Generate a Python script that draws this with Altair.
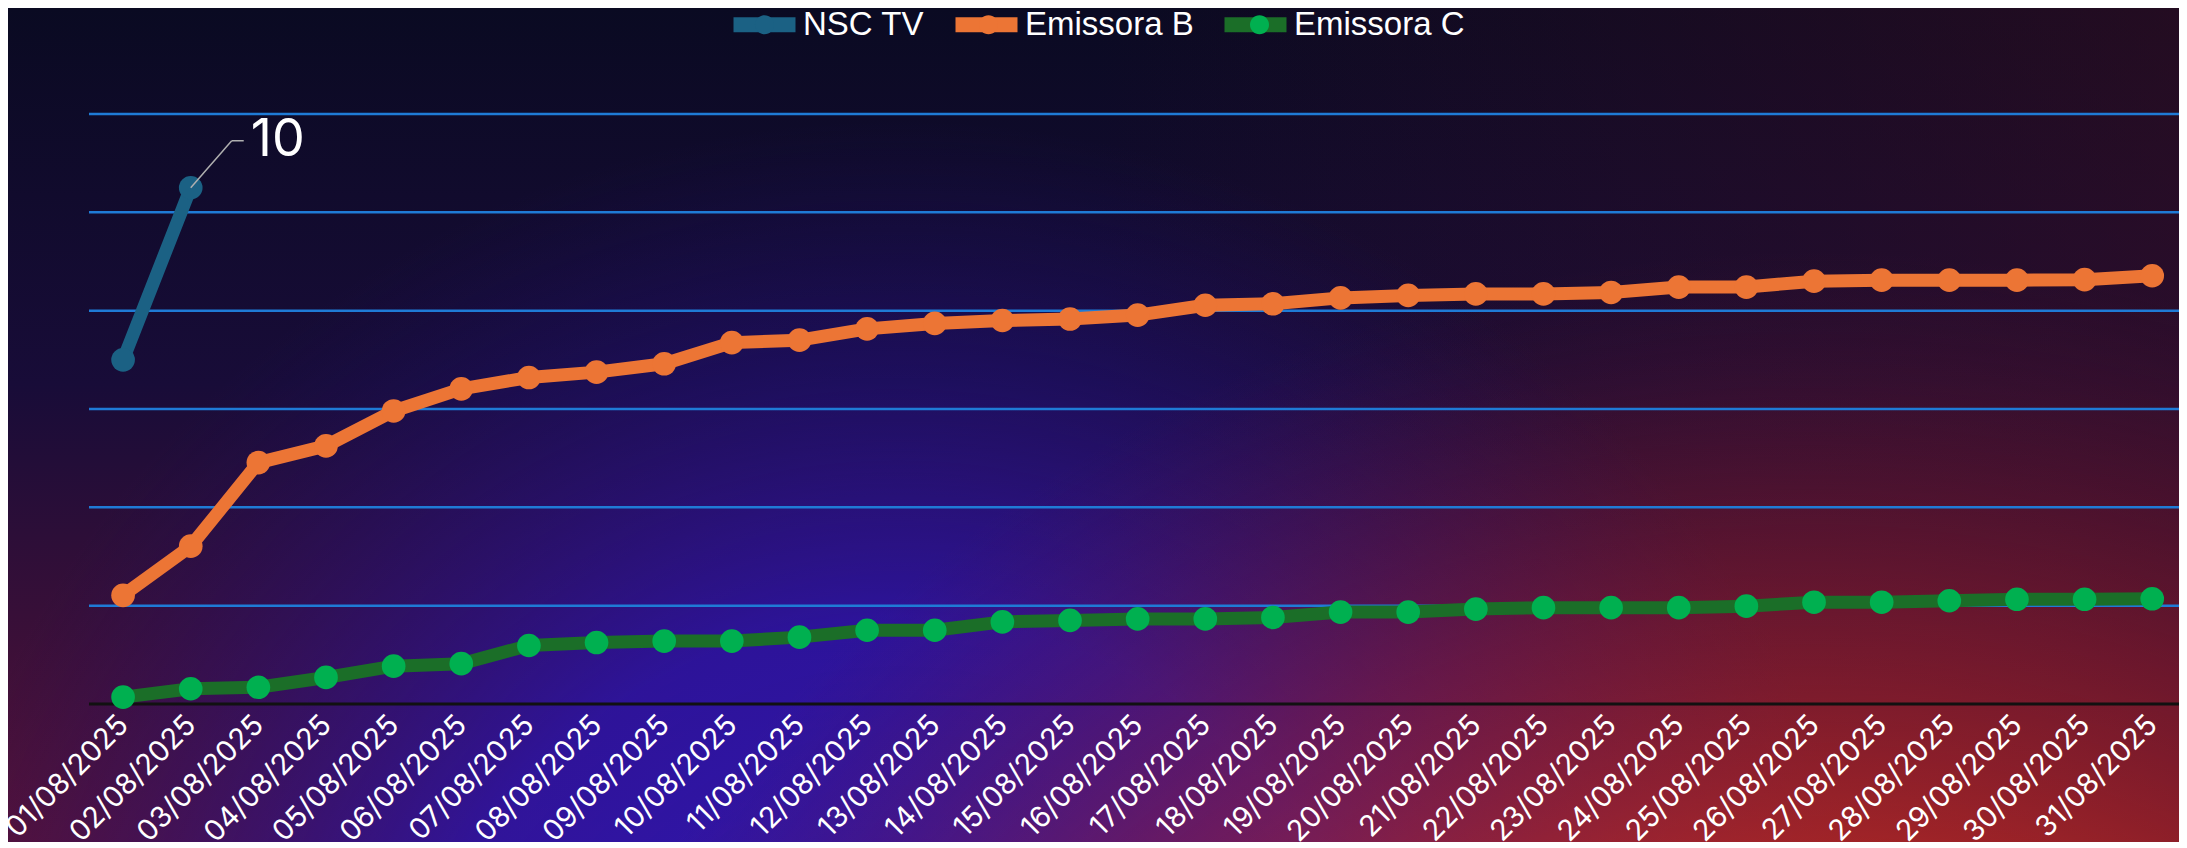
import altair as alt
import pandas as pd

dates = ["01/08/2025", "02/08/2025", "03/08/2025", "04/08/2025", "05/08/2025",
         "06/08/2025", "07/08/2025", "08/08/2025", "09/08/2025", "10/08/2025",
         "11/08/2025", "12/08/2025", "13/08/2025", "14/08/2025", "15/08/2025",
         "16/08/2025", "17/08/2025", "18/08/2025", "19/08/2025", "20/08/2025",
         "21/08/2025", "22/08/2025", "23/08/2025", "24/08/2025", "25/08/2025",
         "26/08/2025", "27/08/2025", "28/08/2025", "29/08/2025", "30/08/2025",
         "31/08/2025"]

series_names = ["NSC TV", "Emissora B", "Emissora C"]

nsc_tv = [7.0, 10.5]

emissora_b = [2.21, 3.21, 4.91, 5.25, 5.96, 6.41, 6.64, 6.75, 6.92, 7.35,
              7.40, 7.63, 7.74, 7.80, 7.83, 7.91, 8.11, 8.14, 8.26, 8.31,
              8.34, 8.34, 8.37, 8.48, 8.48, 8.60, 8.62, 8.62, 8.62, 8.63,
              8.71]

emissora_c = [0.14, 0.31, 0.34, 0.54, 0.77, 0.82, 1.19, 1.25, 1.28, 1.28,
              1.36, 1.50, 1.50, 1.67, 1.70, 1.73, 1.73, 1.76, 1.87, 1.87,
              1.93, 1.96, 1.96, 1.96, 1.99, 2.07, 2.07, 2.10, 2.13, 2.13,
              2.14]

grid_values = [2, 4, 6, 8, 10, 12]

line_colors = ["#1b6184", "#ec7535", "#1b6e28"]
point_colors = ["#1b6184", "#ec7535", "#00b050"]

# the point layer uses the same names with an invisible zero-width suffix so
# that its (circle) legend is kept apart from the line legend and overlaid on it
ZW = "\u200b"
series_pt_names = [s + ZW for s in series_names]

rows = []
for name, vals in zip(series_names, [nsc_tv, emissora_b, emissora_c]):
    for d, v in zip(dates, vals):
        rows.append({"date": d, "series": name, "series_pt": name + ZW,
                     "value": v})
df = pd.DataFrame(rows)

W, H = 2090, 590
PAD = {"left": 81, "top": 106, "right": 0, "bottom": 138}

x_scale = alt.Scale(type="point", padding=0.45, align=0.56)
x_enc = alt.X("date:O", sort=dates, scale=x_scale,
              axis=alt.Axis(title=None, labelAngle=-45, labelAlign="right",
                            labelBaseline="middle", labelColor="white",
                            labelFont="Inter", labelFontSize=29, ticks=False,
                            domain=False, grid=False, labelPadding=16,
                            labelOverlap=False, zindex=1))
y_scale = alt.Scale(domain=[0, 12], nice=False, zero=True)

bg_df = pd.DataFrame({"k": [0]})


def bg_layer(fill):
    return alt.Chart(bg_df).mark_rect(fill=fill, strokeWidth=0).encode(
        x=alt.value(-PAD["left"]), x2=alt.value(W + PAD["right"]),
        y=alt.value(-PAD["top"]), y2=alt.value(H + PAD["bottom"]))


bg_base = bg_layer({"gradient": "linear", "x1": 0, "y1": 0, "x2": 0, "y2": 1,
                    "stops": [{"offset": 0, "color": "#0a0a22"},
                              {"offset": 0.45, "color": "#180c38"},
                              {"offset": 1, "color": "#561238"}]})
bg_right = bg_layer({"gradient": "linear", "x1": 0.5, "y1": 0, "x2": 1, "y2": 0,
                     "stops": [{"offset": 0, "color": "rgba(60,14,32,0)"},
                               {"offset": 1, "color": "rgba(60,14,32,0.5)"}]})
bg_blue = bg_layer({"gradient": "radial", "x1": 0.41, "y1": 0.82, "r1": 0,
                    "x2": 0.41, "y2": 0.82, "r2": 0.46,
                    "stops": [{"offset": 0, "color": "rgba(46,22,190,1)"},
                              {"offset": 0.5, "color": "rgba(42,20,170,0.85)"},
                              {"offset": 1, "color": "rgba(30,15,110,0)"}]})
bg_red = bg_layer({"gradient": "radial", "x1": 0.83, "y1": 1.06, "r1": 0,
                   "x2": 0.83, "y2": 1.06, "r2": 0.64,
                   "stops": [{"offset": 0, "color": "rgba(238,74,24,1)"},
                             {"offset": 0.45, "color": "rgba(212,50,30,0.95)"},
                             {"offset": 0.75, "color": "rgba(150,30,45,0.5)"},
                             {"offset": 1, "color": "rgba(100,20,50,0)"}]})

grid = alt.Chart(pd.DataFrame({"g": grid_values})).mark_rule(
    color="#1f7bd6", strokeWidth=2.5).encode(
    y=alt.Y("g:Q", scale=y_scale, axis=None))

baseline = alt.Chart(pd.DataFrame({"g": [0]})).mark_rule(
    color="#111111", strokeWidth=3).encode(
    y=alt.Y("g:Q", scale=y_scale, axis=None))

legend_common = dict(orient="none", legendX=637, legendY=-128,
                     direction="horizontal", title=None,
                     symbolOpacity=1, labelFontSize=33, labelColor="white",
                     labelFont="Liberation Sans", labelOffset=0,
                     labelLimit=600, padding=0)

lines = alt.Chart(df).mark_line(strokeWidth=13, strokeJoin="round",
                                strokeCap="round").encode(
    x=x_enc,
    y=alt.Y("value:Q", scale=y_scale, axis=None),
    color=alt.Color("series:N", sort=series_names,
                    scale=alt.Scale(domain=series_names, range=line_colors),
                    legend=alt.Legend(symbolType="stroke", symbolSize=3844,
                                      symbolStrokeWidth=15, columnPadding=0,
                                      **legend_common)),
    detail="series:N")

points = alt.Chart(df).mark_circle(size=560, opacity=1).encode(
    x=x_enc,
    y=alt.Y("value:Q", scale=y_scale, axis=None),
    fill=alt.Fill("series_pt:N", sort=series_pt_names,
                  scale=alt.Scale(domain=series_pt_names, range=point_colors),
                  legend=alt.Legend(
                      symbolType="M-0.247,0A0.247,0.247 0 1,0 0.247,0A0.247,0.247 0 1,0 -0.247,0Z",
                      symbolSize=5929, symbolStrokeWidth=0, labelOpacity=0,
                      columnPadding=25, **legend_common)))

annot_base = alt.Chart(df).transform_filter(
    (alt.datum.series == "NSC TV") & (alt.datum.date == "02/08/2025"))

ann_x = alt.X("date:O", sort=dates, scale=x_scale)
ann_y = alt.Y("value:Q", scale=y_scale, axis=None)

leader1 = annot_base.mark_rule(color="#b0b0b0", strokeWidth=1.5,
                               x2Offset=41, y2Offset=-47).encode(
    x=ann_x, x2="date:O", y=ann_y, y2="value:Q")
leader2 = annot_base.mark_rule(color="#b0b0b0", strokeWidth=1.5,
                               xOffset=41, yOffset=-47,
                               x2Offset=53, y2Offset=-47).encode(
    x=ann_x, x2="date:O", y=ann_y, y2="value:Q")
label = annot_base.transform_calculate(lbl="floor(datum.value)").mark_text(
    align="left", baseline="middle", dx=60, dy=-48, fontSize=52,
    font="Inter", color="white").encode(
    x=ann_x, y=ann_y, text="lbl:Q")

chart = alt.layer(bg_base, bg_right, bg_blue, bg_red, grid, baseline, lines,
                  points, leader1, leader2, label).properties(
    width=W, height=H, padding=PAD, autosize="none",
    background="#0a0a22").configure_view(stroke=None)

chart.save("out.html", embed_options={"renderer": "svg", "actions": False})
